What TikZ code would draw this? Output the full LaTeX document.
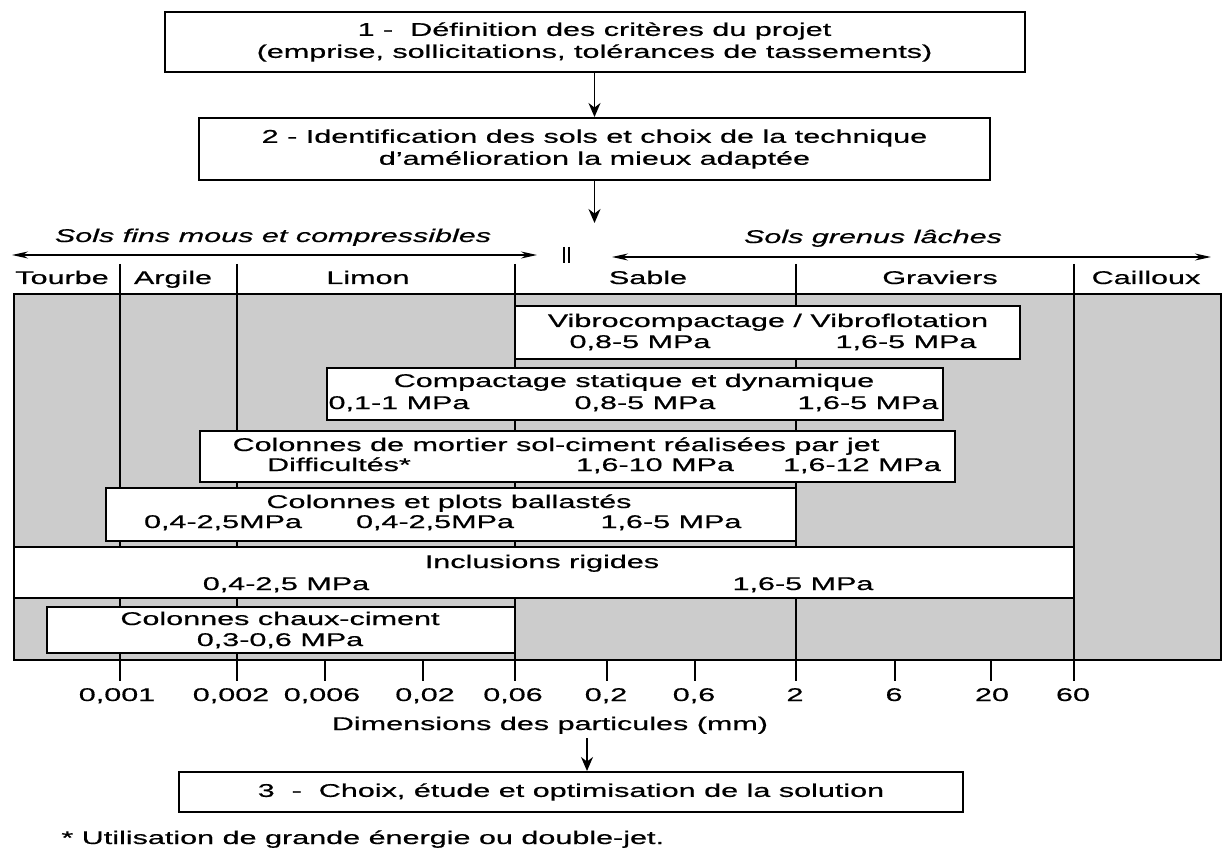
\documentclass[tikz,border=0pt]{standalone}
\usepackage{fontspec}
\setmainfont{Liberation Sans}[FakeStretch=1.66,FakeBold=0.6]
\usetikzlibrary{arrows.meta}

\definecolor{soilgray}{gray}{0.8}
\newcommand\chartfont{\fontsize{9.2}{11}\selectfont}

\begin{document}
\begin{tikzpicture}[x=0.5pt,y=-0.5pt,
    stagebox/.style={draw,line width=1pt,align=center,inner sep=0pt,font=\chartfont},
    methodbox/.style={draw,line width=1pt,fill=white},
    txt/.style={anchor=base,inner sep=0pt,font=\chartfont},
    soiltype/.style={anchor=base,inner sep=0pt,font=\chartfont\itshape},
    flowarrow/.style={line width=0.8pt,-{Stealth[length=7pt,width=6pt]}},
    rangearrow/.style={line width=0.6pt,{Stealth[length=8pt,width=3.5pt]}-{Stealth[length=8pt,width=3.5pt]}}]
\useasboundingbox (0,0) rectangle (1228,856);
% Steps 1 and 2
\node[stagebox,minimum width=430pt,minimum height=30pt] (criteria) at (594.5,42)
  {1 -\ \ Définition des critères du projet\\(emprise, sollicitations, tolérances de tassements)};
\node[stagebox,minimum width=395.5pt,minimum height=31pt] (identif) at (594.5,149)
  {2 - Identification des sols et choix de la technique\\d'amélioration la mieux adaptée};
\coordinate (chartin) at (594.5,223);
\draw[flowarrow] (criteria) -- (identif);
\draw[flowarrow] (identif) -- (chartin);
% Soil families
\node[soiltype] (fines) at (273,242) {Sols fins mous et compressibles};
\node[soiltype] (coarse) at (873,243) {Sols grenus lâches};
\draw[rangearrow] (12,255) -- (537,255);
\draw[rangearrow] (612,257) -- (1211,257);
\draw[line width=0.8pt] (564,247) -- (564,263) (569,247) -- (569,263);
% Chart
\draw[line width=1pt,fill=soilgray] (14,294) rectangle (1221,660);
\foreach \x in {120,237,515,796,1074}
  \draw[line width=1pt] (\x,264) -- (\x,681);
\foreach \x in {325,423,607,695,895,991}
  \draw[line width=1pt] (\x,660) -- (\x,681);
\foreach \x/\soil in {62/Tourbe,173/Argile,368/Limon,648/Sable,940/Graviers,1146/Cailloux}
  \node[txt] (\soil) at (\x,284) {\soil};
% Methods
\draw[methodbox] (515,306) rectangle (1020,359);
\node[txt] (vibro) at (768,327) {Vibrocompactage / Vibroflotation};
\node[txt] (vibroA) at (640,348) {0,8-5 MPa};
\node[txt] (vibroB) at (906,348) {1,6-5 MPa};
\draw[methodbox] (327,368) rectangle (943,420);
\node[txt] (compact) at (634,387) {Compactage statique et dynamique};
\node[txt] (compactA) at (399,409) {0,1-1 MPa};
\node[txt] (compactB) at (645,409) {0,8-5 MPa};
\node[txt] (compactC) at (868,409) {1,6-5 MPa};
\draw[methodbox] (200,431) rectangle (955,482);
\node[txt] (jet) at (556,451) {Colonnes de mortier sol-ciment réalisées par jet};
\node[txt] (jetA) at (339,471) {Difficultés*};
\node[txt] (jetB) at (655,471) {1,6-10 MPa};
\node[txt] (jetC) at (862,471) {1,6-12 MPa};
\draw[methodbox] (106,488) rectangle (796,541);
\node[txt] (ballast) at (449,508) {Colonnes et plots ballastés};
\node[txt] (ballastA) at (223,528) {0,4-2,5MPa};
\node[txt] (ballastB) at (435,528) {0,4-2,5MPa};
\node[txt] (ballastC) at (671,528) {1,6-5 MPa};
\draw[methodbox] (14,547) rectangle (1074,598);
\node[txt] (rigid) at (542,568) {Inclusions rigides};
\node[txt] (rigidA) at (286,590) {0,4-2,5 MPa};
\node[txt] (rigidB) at (803,590) {1,6-5 MPa};
\draw[methodbox] (47,607) rectangle (515,653);
\node[txt] (lime) at (280,625) {Colonnes chaux-ciment};
\node[txt] (limeA) at (280,646) {0,3-0,6 MPa};
% Particle sizes
\foreach \x/\lbl [count=\i] in {117/{0,001},231/{0,002},322/{0,006},425/{0,02},513/{0,06},606/{0,2},694/{0,6},795/2,894/6,992/20,1073/60}
  \node[txt] (size\i) at (\x,701) {\lbl};
\node[txt] (dims) at (550,730) {Dimensions des particules (mm)};
% Step 3
\node[stagebox,minimum width=392pt,minimum height=20pt] (choice) at (571,792)
  {3\ \ -\ \ Choix, étude et optimisation de la solution};
\coordinate (dimout) at (587,738);
\draw[flowarrow] (dimout) -- (dimout |- choice.north);
\node[txt,anchor=base west] (note) at (61,844) {* Utilisation de grande énergie ou double-jet.};
\end{tikzpicture}
\end{document}
